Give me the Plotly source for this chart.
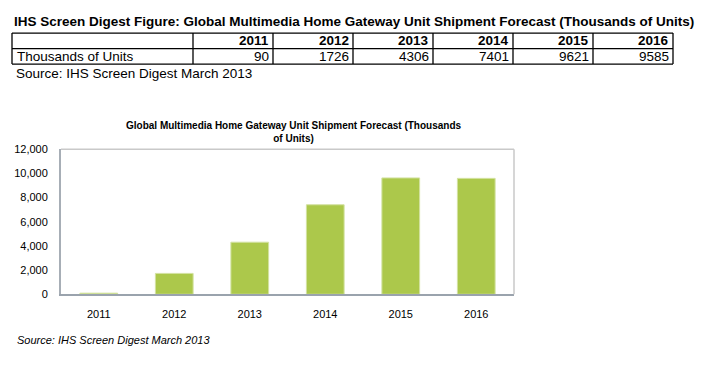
import plotly.graph_objects as go

years = ["2011", "2012", "2013", "2014", "2015", "2016"]
units = [90, 1726, 4306, 7401, 9621, 9585]
row_label = "Thousands of Units"
y_ticks = [0, 2000, 4000, 6000, 8000, 10000, 12000]

W, H = 725, 367
def px(x):
    return x / W
def py(y):
    return 1 - y / H

FONT = "Liberation Sans, Arial, sans-serif"

fig = go.Figure()

# bar chart
fig.add_trace(go.Bar(
    x=years, y=units,
    marker=dict(color="#acc84b", line=dict(color="#d3e2a2", width=1)),
    hoverinfo="x+y",
))

# ---- table drawn as lines + text (values come from the lists above)
tbl_left, first_w, col_w = 12, 181, 80
row_tops = [28, 44, 60]
col_edges = [tbl_left, tbl_left + first_w] + [tbl_left + first_w + col_w * (i + 1) for i in range(len(years))]
shapes = []
for yv in row_tops:
    shapes.append(dict(type="line", xref="paper", yref="paper",
                       x0=px(col_edges[0]), x1=px(col_edges[-1]), y0=py(yv), y1=py(yv),
                       line=dict(color="black", width=1.3)))
for xv in col_edges:
    shapes.append(dict(type="line", xref="paper", yref="paper",
                       x0=px(xv), x1=px(xv), y0=py(row_tops[0]), y1=py(row_tops[-1]),
                       line=dict(color="black", width=1.3)))

# plot frame top / right (lighter)
shapes += [
    dict(type="line", xref="x domain", yref="y domain", x0=0, x1=1, y0=1, y1=1,
         line=dict(color="#c9c9c9", width=1.5)),
    dict(type="line", xref="x domain", yref="y domain", x0=1, x1=1, y0=0, y1=1,
         line=dict(color="#c9c9c9", width=1.5)),
]

annotations = []
hdr_y = (row_tops[0] + row_tops[1]) / 2
dat_y = (row_tops[1] + row_tops[2]) / 2
annotations.append(dict(text=row_label, xref="paper", yref="paper",
                        x=px(tbl_left + 3), y=py(dat_y), xanchor="left", yanchor="middle",
                        showarrow=False, font=dict(family=FONT, size=13.5, color="black")))
for i, (yr, v) in enumerate(zip(years, units)):
    right = col_edges[i + 2] - 2
    annotations.append(dict(text=f"<b>{yr}</b>", xref="paper", yref="paper",
                            x=px(right), y=py(hdr_y), xanchor="right", yanchor="middle",
                            showarrow=False, font=dict(family=FONT, size=13.5, color="black")))
    annotations.append(dict(text=str(v), xref="paper", yref="paper",
                            x=px(right), y=py(dat_y), xanchor="right", yanchor="middle",
                            showarrow=False, font=dict(family=FONT, size=13.5, color="black")))

annotations += [
    dict(text="<b>IHS Screen Digest Figure: Global Multimedia Home Gateway Unit Shipment Forecast (Thousands of Units)</b>",
         xref="paper", yref="paper", x=px(12), y=py(16), xanchor="left", yanchor="middle",
         showarrow=False, font=dict(family=FONT, size=13.5, color="black")),
    dict(text="Source: IHS Screen Digest March 2013",
         xref="paper", yref="paper", x=px(14), y=py(70), xanchor="left", yanchor="middle",
         showarrow=False, font=dict(family=FONT, size=13.5, color="black")),
    dict(text="<b>Global Multimedia Home Gateway Unit Shipment Forecast (Thousands<br>of Units)</b>",
         xref="paper", yref="paper", x=px(293), y=py(130), xanchor="center", yanchor="middle",
         showarrow=False, font=dict(family=FONT, size=10, color="black")),
    dict(text="<i>Source: IHS Screen Digest March 2013</i>",
         xref="paper", yref="paper", x=px(15), y=py(345), xanchor="left", yanchor="middle",
         showarrow=False, font=dict(family=FONT, size=11, color="black")),
]

fig.update_layout(
    width=W, height=H,
    margin=dict(l=0, r=0, t=0, b=0),
    paper_bgcolor="white", plot_bgcolor="white",
    showlegend=False,
    bargap=0.5,
    font=dict(family=FONT, color="black"),
    xaxis=dict(
        domain=[px(61), px(514)],
        showline=True, linecolor="#9aa3ad", linewidth=2,
        showgrid=False, ticks="", zeroline=False,
        tickfont=dict(size=11, color="black"),
        ticklabelstandoff=9,
        fixedrange=True,
    ),
    yaxis=dict(
        domain=[py(298), py(148)],
        range=[0, 12000],
        tickvals=y_ticks, tickformat=",",
        showline=True, linecolor="#a7aeb6", linewidth=2,
        showgrid=False, ticks="", zeroline=False,
        tickfont=dict(size=11, color="black"),
        ticklabelstandoff=9,
        fixedrange=True,
    ),
    shapes=shapes,
    annotations=annotations,
)

fig.write_html("out.html", config={"displayModeBar": False},
               post_script="document.body.style.margin='0';document.body.style.overflow='hidden';")
